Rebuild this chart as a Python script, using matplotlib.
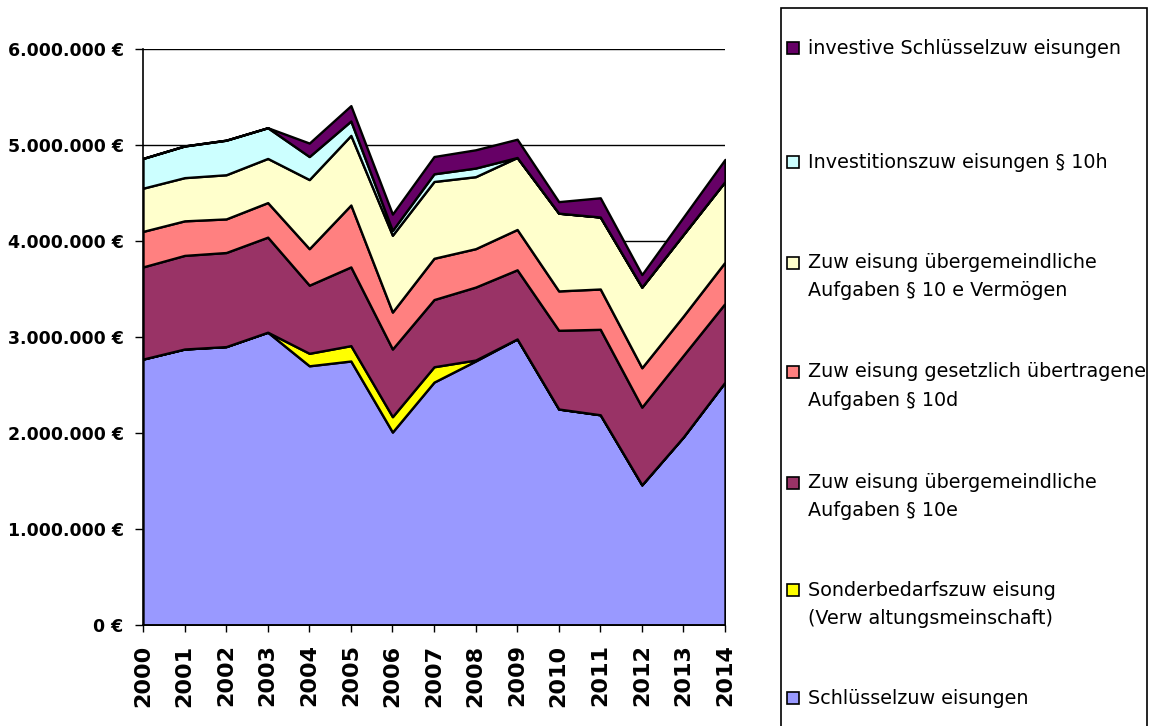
import matplotlib
matplotlib.use("Agg")
import matplotlib.pyplot as plt
from matplotlib.patches import Rectangle
from matplotlib.ticker import FuncFormatter, MultipleLocator

years = list(range(2000, 2015))

schluessel = [2770000, 2875000, 2900000, 3050000, 2700000, 2750000, 2010000, 2530000,
              2750000, 2980000, 2250000, 2190000, 1460000, 1960000, 2530000]
sonderbedarf = [0, 0, 0, 0, 130000, 160000, 160000, 160000, 10000, 0, 0, 0, 0, 0, 0]
ueber_10e = [960000, 975000, 980000, 990000, 710000, 820000, 705000, 700000,
             760000, 720000, 820000, 890000, 810000, 850000, 820000]
gesetzl_10d = [370000, 360000, 350000, 360000, 380000, 645000, 385000, 430000,
               400000, 420000, 410000, 420000, 410000, 410000, 430000]
vermoegen_10e = [450000, 450000, 460000, 460000, 720000, 725000, 800000, 800000,
                 750000, 750000, 810000, 750000, 840000, 850000, 840000]
invest_10h = [310000, 330000, 360000, 320000, 240000, 150000, 50000, 80000,
              90000, 0, 0, 0, 0, 0, 0]
investive = [0, 0, 0, 0, 140000, 160000, 170000, 180000, 190000, 190000,
             120000, 200000, 130000, 180000, 230000]

series = [schluessel, sonderbedarf, ueber_10e, gesetzl_10d, vermoegen_10e, invest_10h, investive]
colors = ["#9999FF", "#FFFF00", "#993366", "#FF8080", "#FFFFCC", "#CCFFFF", "#660066"]
labels = ["Schlüsselzuw eisungen",
          "Sonderbedarfszuw eisung\n(Verw altungsmeinschaft)",
          "Zuw eisung übergemeindliche\nAufgaben § 10e",
          "Zuw eisung gesetzlich übertragene\nAufgaben § 10d",
          "Zuw eisung übergemeindliche\nAufgaben § 10 e Vermögen",
          "Investitionszuw eisungen § 10h",
          "investive Schlüsselzuw eisungen"]

W, H = 1150, 726
fig = plt.figure(figsize=(W / 100, H / 100), dpi=100)
ax = fig.add_axes([143 / W, 1 - 625 / H, 582 / W, 576 / H])

ax.stackplot(years, *series, colors=colors, edgecolor="black", linewidth=1.7)

ax.set_xlim(2000, 2014)
ax.set_ylim(0, 6000000)
ax.set_xticks(years)
ax.set_xticklabels([str(y) for y in years], rotation=90, fontsize=16,
                   fontweight="bold", family="DejaVu Sans")
ax.yaxis.set_major_locator(MultipleLocator(1000000))
ax.yaxis.set_major_formatter(FuncFormatter(lambda v, p: f"{int(v):,}".replace(",", ".") + " €"))
for lab in ax.get_yticklabels():
    lab.set_fontsize(12.5)
    lab.set_fontweight("bold")
    lab.set_family("DejaVu Sans")

ax.yaxis.grid(True, color="black", linewidth=1)
ax.set_axisbelow(True)
for s in ["top", "right"]:
    ax.spines[s].set_visible(False)
for s in ["left", "bottom"]:
    ax.spines[s].set_color("black")
    ax.spines[s].set_linewidth(1.2)
ax.tick_params(axis="y", direction="out", length=6, width=1, pad=8)
ax.tick_params(axis="x", direction="out", length=5, width=1, pad=9)

# Legend (manual, Excel-style)
def fx(x):
    return x / W

def fy(y):
    return 1 - y / H

fig.add_artist(Rectangle((fx(781), fy(740)), fx(1147) - fx(781), fy(8) - fy(740),
                         transform=fig.transFigure, facecolor="white",
                         edgecolor="black", linewidth=1.2, zorder=1))

legend_y = [48, 162, 263, 372, 483, 590, 698]
order = list(range(len(series)))[::-1]
for yc, idx in zip(legend_y, order):
    fig.add_artist(Rectangle((fx(787), fy(yc + 6)), fx(799) - fx(787), fy(yc - 6) - fy(yc + 6),
                             transform=fig.transFigure, facecolor=colors[idx],
                             edgecolor="black", linewidth=1.2, zorder=2))
    for k, line in enumerate(labels[idx].split("\n")):
        fig.text(fx(808), fy(yc + 28 * k), line, fontsize=13.8, family="DejaVu Sans",
                 va="center", ha="left", zorder=3)

fig.savefig("out.png", dpi=100)
